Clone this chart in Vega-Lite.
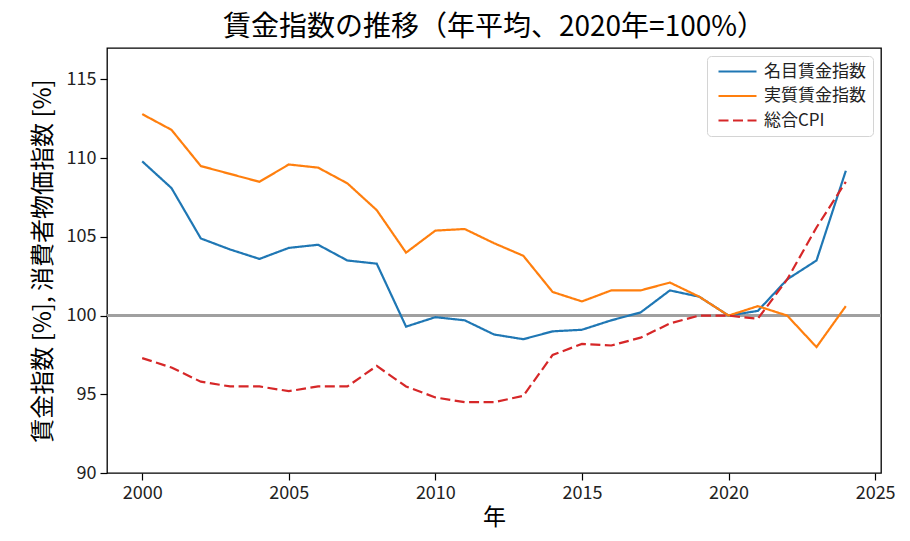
{
  "$schema": "https://vega.github.io/schema/vega-lite/v6.json",
  "width": 774,
  "height": 425,
  "autosize": {"type": "none"},
  "padding": {"left": 107, "top": 48, "right": 29, "bottom": 68},
  "background": "#ffffff",
  "title": {
    "text": "賃金指数の推移（年平均、2020年=100%）",
    "anchor": "middle",
    "fontSize": 28,
    "fontWeight": "normal",
    "font": "Noto Sans CJK JP",
    "color": "#000000",
    "offset": 6
  },
  "data": {
    "values": [
      {"year": 2000, "series": "名目賃金指数", "value": 109.8},
      {"year": 2001, "series": "名目賃金指数", "value": 108.1},
      {"year": 2002, "series": "名目賃金指数", "value": 104.9},
      {"year": 2003, "series": "名目賃金指数", "value": 104.2},
      {"year": 2004, "series": "名目賃金指数", "value": 103.6},
      {"year": 2005, "series": "名目賃金指数", "value": 104.3},
      {"year": 2006, "series": "名目賃金指数", "value": 104.5},
      {"year": 2007, "series": "名目賃金指数", "value": 103.5},
      {"year": 2008, "series": "名目賃金指数", "value": 103.3},
      {"year": 2009, "series": "名目賃金指数", "value": 99.3},
      {"year": 2010, "series": "名目賃金指数", "value": 99.9},
      {"year": 2011, "series": "名目賃金指数", "value": 99.7},
      {"year": 2012, "series": "名目賃金指数", "value": 98.8},
      {"year": 2013, "series": "名目賃金指数", "value": 98.5},
      {"year": 2014, "series": "名目賃金指数", "value": 99.0},
      {"year": 2015, "series": "名目賃金指数", "value": 99.1},
      {"year": 2016, "series": "名目賃金指数", "value": 99.7},
      {"year": 2017, "series": "名目賃金指数", "value": 100.2},
      {"year": 2018, "series": "名目賃金指数", "value": 101.6},
      {"year": 2019, "series": "名目賃金指数", "value": 101.2},
      {"year": 2020, "series": "名目賃金指数", "value": 100.0},
      {"year": 2021, "series": "名目賃金指数", "value": 100.3},
      {"year": 2022, "series": "名目賃金指数", "value": 102.3},
      {"year": 2023, "series": "名目賃金指数", "value": 103.5},
      {"year": 2024, "series": "名目賃金指数", "value": 109.2},
      {"year": 2000, "series": "実質賃金指数", "value": 112.8},
      {"year": 2001, "series": "実質賃金指数", "value": 111.8},
      {"year": 2002, "series": "実質賃金指数", "value": 109.5},
      {"year": 2003, "series": "実質賃金指数", "value": 109.0},
      {"year": 2004, "series": "実質賃金指数", "value": 108.5},
      {"year": 2005, "series": "実質賃金指数", "value": 109.6},
      {"year": 2006, "series": "実質賃金指数", "value": 109.4},
      {"year": 2007, "series": "実質賃金指数", "value": 108.4},
      {"year": 2008, "series": "実質賃金指数", "value": 106.7},
      {"year": 2009, "series": "実質賃金指数", "value": 104.0},
      {"year": 2010, "series": "実質賃金指数", "value": 105.4},
      {"year": 2011, "series": "実質賃金指数", "value": 105.5},
      {"year": 2012, "series": "実質賃金指数", "value": 104.6},
      {"year": 2013, "series": "実質賃金指数", "value": 103.8},
      {"year": 2014, "series": "実質賃金指数", "value": 101.5},
      {"year": 2015, "series": "実質賃金指数", "value": 100.9},
      {"year": 2016, "series": "実質賃金指数", "value": 101.6},
      {"year": 2017, "series": "実質賃金指数", "value": 101.6},
      {"year": 2018, "series": "実質賃金指数", "value": 102.1},
      {"year": 2019, "series": "実質賃金指数", "value": 101.2},
      {"year": 2020, "series": "実質賃金指数", "value": 100.0},
      {"year": 2021, "series": "実質賃金指数", "value": 100.6},
      {"year": 2022, "series": "実質賃金指数", "value": 100.0},
      {"year": 2023, "series": "実質賃金指数", "value": 98.0},
      {"year": 2024, "series": "実質賃金指数", "value": 100.6},
      {"year": 2000, "series": "総合CPI", "value": 97.3},
      {"year": 2001, "series": "総合CPI", "value": 96.7},
      {"year": 2002, "series": "総合CPI", "value": 95.8},
      {"year": 2003, "series": "総合CPI", "value": 95.5},
      {"year": 2004, "series": "総合CPI", "value": 95.5},
      {"year": 2005, "series": "総合CPI", "value": 95.2},
      {"year": 2006, "series": "総合CPI", "value": 95.5},
      {"year": 2007, "series": "総合CPI", "value": 95.5},
      {"year": 2008, "series": "総合CPI", "value": 96.8},
      {"year": 2009, "series": "総合CPI", "value": 95.5},
      {"year": 2010, "series": "総合CPI", "value": 94.8},
      {"year": 2011, "series": "総合CPI", "value": 94.5},
      {"year": 2012, "series": "総合CPI", "value": 94.5},
      {"year": 2013, "series": "総合CPI", "value": 94.9},
      {"year": 2014, "series": "総合CPI", "value": 97.5},
      {"year": 2015, "series": "総合CPI", "value": 98.2},
      {"year": 2016, "series": "総合CPI", "value": 98.1},
      {"year": 2017, "series": "総合CPI", "value": 98.6},
      {"year": 2018, "series": "総合CPI", "value": 99.5},
      {"year": 2019, "series": "総合CPI", "value": 100.0},
      {"year": 2020, "series": "総合CPI", "value": 100.0},
      {"year": 2021, "series": "総合CPI", "value": 99.8},
      {"year": 2022, "series": "総合CPI", "value": 102.3},
      {"year": 2023, "series": "総合CPI", "value": 105.6},
      {"year": 2024, "series": "総合CPI", "value": 108.5}
    ]
  },
  "layer": [
    {
      "mark": {"type": "rule", "color": "#a0a0a0", "strokeWidth": 1.8},
      "encoding": {"y": {"datum": 100, "type": "quantitative"}}
    },
    {
      "mark": {"type": "line", "strokeWidth": 2.2},
      "encoding": {
        "x": {
          "field": "year",
          "type": "quantitative",
          "title": "年",
          "scale": {"domain": [1998.8, 2025.2], "nice": false, "zero": false},
          "axis": {"values": [2000, 2005, 2010, 2015, 2020, 2025], "format": "d", "titlePadding": 4, "titleFontSize": 23}
        },
        "y": {
          "field": "value",
          "type": "quantitative",
          "title": "賃金指数 [%], 消費者物価指数 [%]",
          "scale": {"domain": [90, 117], "nice": false, "zero": false},
          "axis": {"values": [90, 95, 100, 105, 110, 115], "titlePadding": 11, "titleFontSize": 24}
        },
        "color": {
          "field": "series",
          "type": "nominal",
          "title": null,
          "scale": {
            "domain": ["名目賃金指数", "実質賃金指数", "総合CPI"],
            "range": ["#1f77b4", "#ff7f0e", "#d62728"]
          }
        },
        "strokeDash": {
          "field": "series",
          "type": "nominal",
          "title": null,
          "scale": {
            "domain": ["名目賃金指数", "実質賃金指数", "総合CPI"],
            "range": [[1, 0], [1, 0], [10, 4.5]]
          }
        }
      }
    }
  ],
  "config": {
    "font": "Noto Sans CJK JP",
    "view": {"stroke": "#000000", "strokeWidth": 1.3},
    "axis": {
      "grid": false,
      "domain": false,
      "ticks": true,
      "tickColor": "#000000",
      "tickSize": 7,
      "tickWidth": 1.2,
      "labelFont": "Noto Sans CJK JP",
      "labelFontSize": 18,
      "labelColor": "#222222",
      "labelPadding": 4,
      "titleFont": "Noto Sans CJK JP",
      "titleFontWeight": "normal",
      "titleColor": "#000000"
    },
    "legend": {
      "orient": "none",
      "legendX": 600,
      "legendY": 8,
      "fillColor": "#ffffff",
      "strokeColor": "#d4d4d4",
      "cornerRadius": 4,
      "padding": 7,
      "symbolType": "M-3.8,0H3.8",
      "symbolSize": 100,
      "symbolOffset": 15,
      "symbolStrokeWidth": 2.2,
      "labelFont": "Noto Sans CJK JP",
      "labelFontSize": 17,
      "labelColor": "#222222",
      "labelOffset": 18,
      "rowPadding": 6.5
    }
  }
}
